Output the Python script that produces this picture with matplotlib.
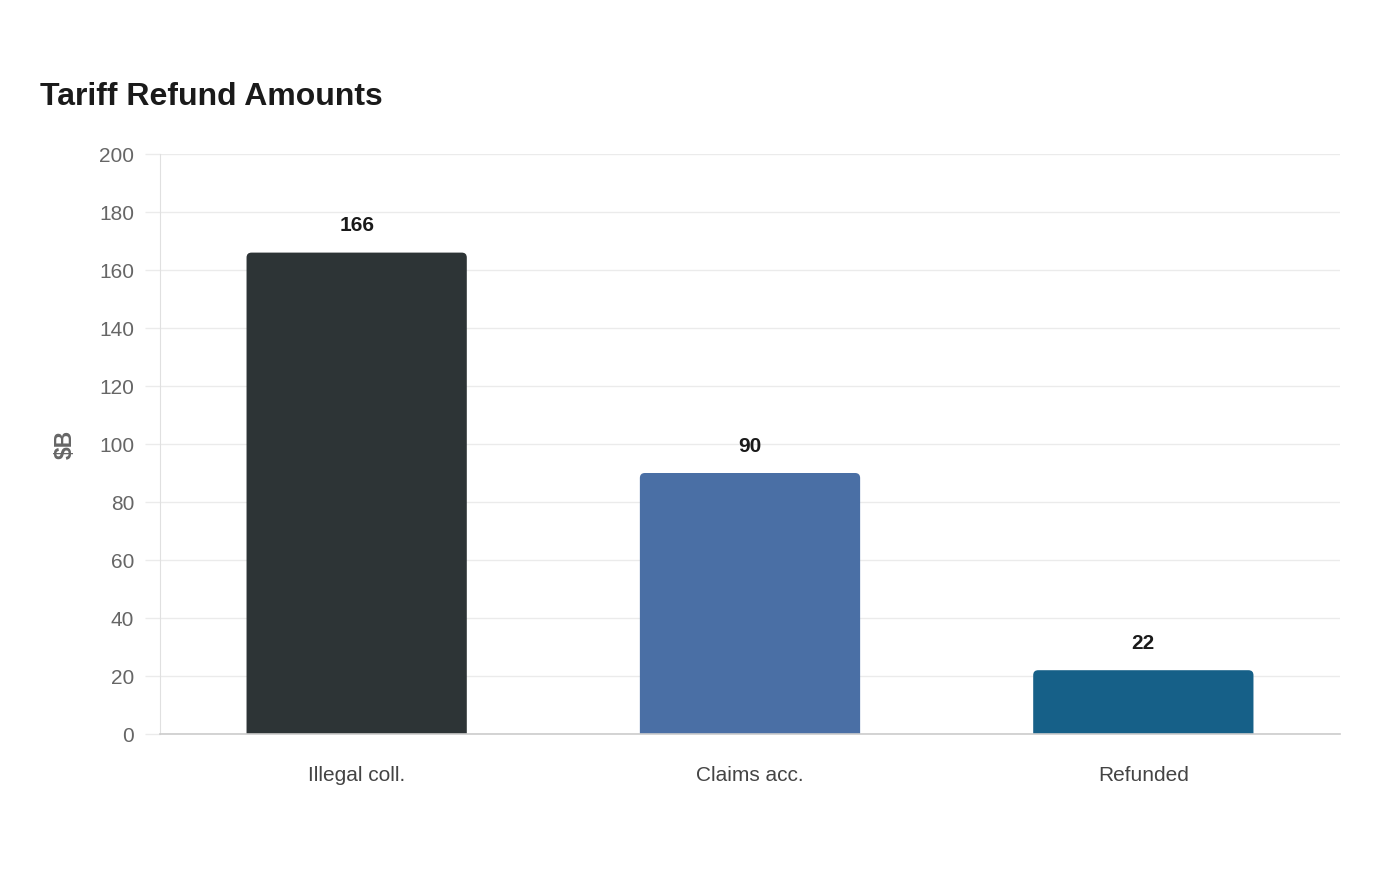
import matplotlib.pyplot as plt
from matplotlib.patches import FancyBboxPatch

plt.rcParams['font.family'] = ['Liberation Sans', 'DejaVu Sans']

categories = ['Illegal coll.', 'Claims acc.', 'Refunded']
amounts = [166, 90, 22]
colors = ['#2d3436', '#4a6fa5', '#166088']

fig = plt.figure(figsize=(14, 8.8), dpi=100)
ax = fig.add_axes([160 / 1400, 1 - 734 / 880, 1180 / 1400, 580 / 880])

ax.set_xlim(-0.5, len(categories) - 0.5)
ax.set_ylim(0, 200)

bar_w = 0.56
# corner radius in pixels converted to data units
px_x = 1180 / 3.0
px_y = 580 / 200.0
r_px = 5
rx = r_px / px_x
ry = r_px / px_y

bars = ax.bar(range(len(categories)), amounts, width=bar_w, color=colors, alpha=0)
for b, c, v in zip(bars, colors, amounts):
    x0 = b.get_x()
    # start below zero so the axes clip away the bottom rounded corners
    patch = FancyBboxPatch((x0, -10), bar_w, v + 10,
                           boxstyle=f'round,pad=0,rounding_size={rx}',
                           mutation_aspect=ry / rx,
                           facecolor=c, edgecolor='none', zorder=3)
    ax.add_patch(patch)
    ax.text(b.get_x() + bar_w / 2, v + 6, str(v), ha='center', va='bottom',
            fontsize=15, fontweight='bold', color='#1a1a1a')

ax.set_yticks(range(0, 201, 20))
ax.set_xticks(range(len(categories)))
ax.set_xticklabels(categories)
ax.grid(axis='y', color='#ebebeb', linewidth=1, zorder=0)
ax.set_axisbelow(True)

for s in ['top', 'right']:
    ax.spines[s].set_visible(False)
ax.spines['left'].set_color('#e0e0e0')
ax.spines['bottom'].set_color('#cccccc')
ax.spines['bottom'].set_linewidth(1.2)
ax.spines['bottom'].set_zorder(4)

ax.tick_params(axis='y', length=11, color='#ebebeb', width=1,
               labelsize=15, labelcolor='#666666', pad=7.5)
ax.tick_params(axis='x', length=0, labelsize=15, labelcolor='#444444', pad=23)

ax.set_ylabel('$B', fontsize=16.5, fontweight='bold', color='#666666', labelpad=16)

fig.text(40 / 1400, 1 - 97 / 880, 'Tariff Refund Amounts', fontsize=23,
         fontweight='bold', color='#1a1a1a', ha='left', va='center')

fig.savefig('out.png', dpi=100, facecolor='white')
